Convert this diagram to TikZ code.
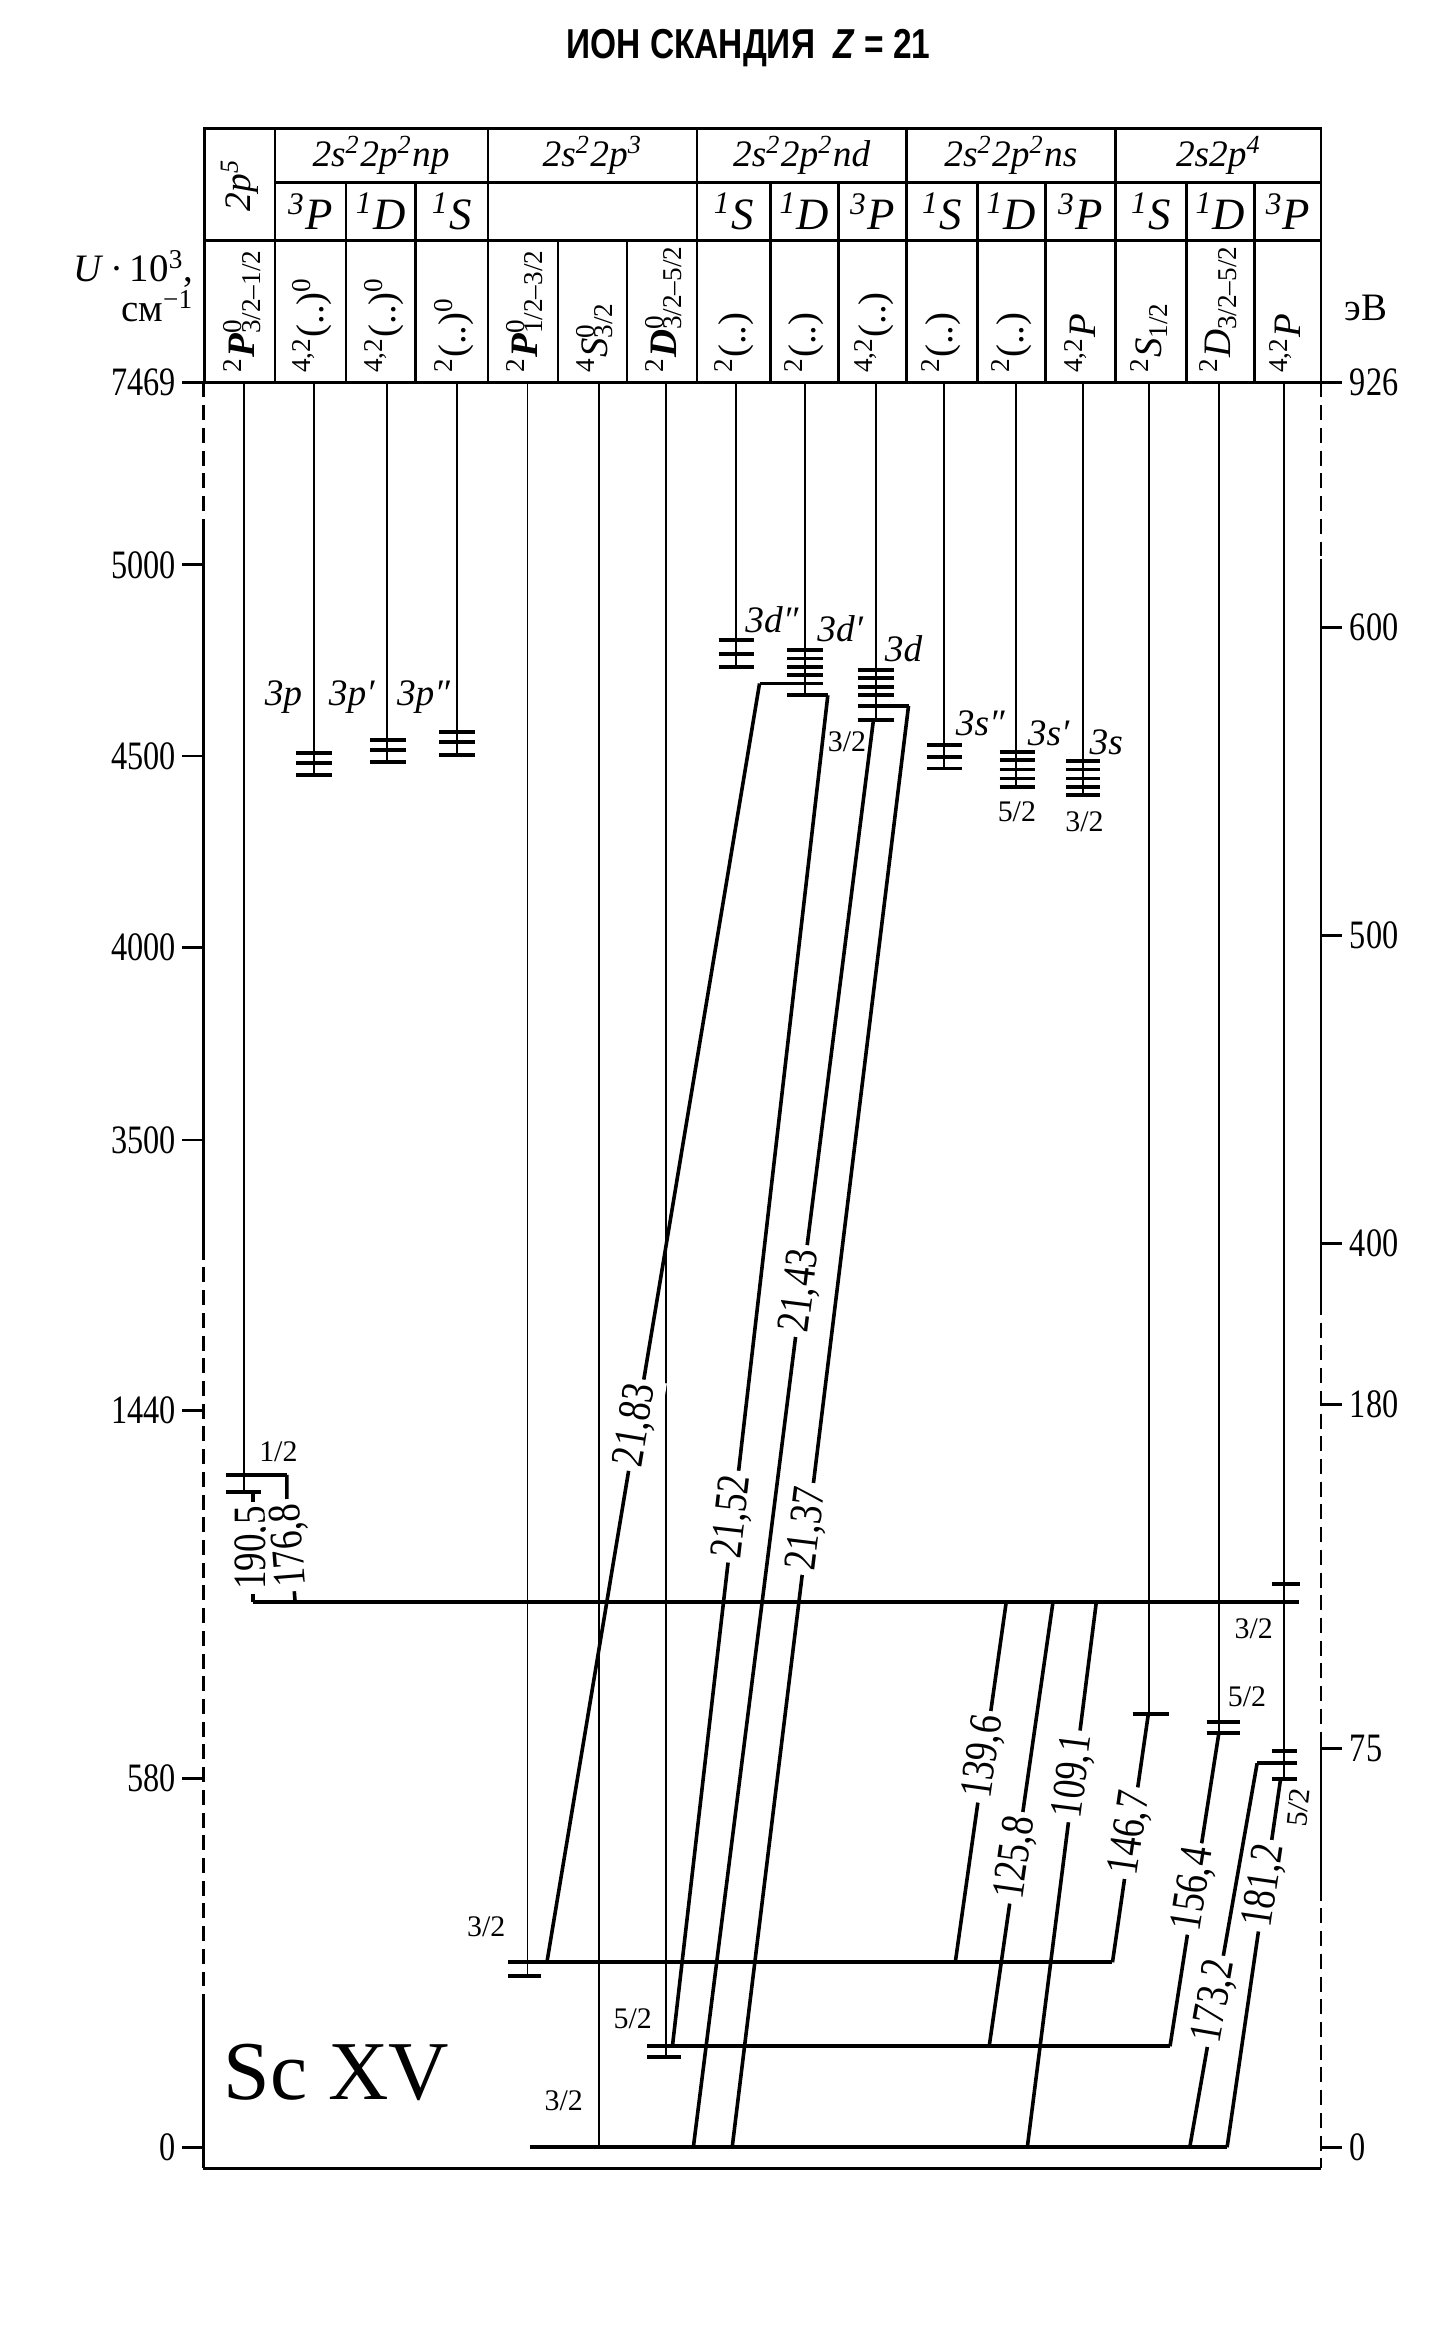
\documentclass[tikz,border=0pt]{standalone}
\usepackage{fontspec}
\usepackage{graphicx}
\setmainfont{Liberation Serif}
\newfontfamily\condserif[FakeStretch=0.8]{Liberation Serif}
\newfontfamily\titlesans[FakeStretch=0.8]{Liberation Sans}
\newcommand\supsub[2]{\makebox[0pt][l]{\textsuperscript{#1}}\textsubscript{#2}}
\begin{document}
\begin{tikzpicture}[x=0.5pt,y=-0.5pt,
  frame/.style={line width=0.9pt},
  axd/.style={line width=0.9pt, dash pattern=on 5pt off 2.6pt},
  col/.style={line width=0.65pt},
  lev/.style={line width=1.2pt},
  tk/.style={line width=1.3pt},
  tr/.style={line width=1.2pt},
  hdr/.style={font=\fontsize{12.5}{14}\selectfont\itshape, inner sep=0pt},
  term/.style={font=\fontsize{15}{16}\selectfont\itshape, inner sep=0pt},
  cfg/.style={rotate=90, anchor=west, font=\fontsize{13}{14}\selectfont, inner sep=0pt},
  axl/.style={font=\condserif\fontsize{13.5}{15}\selectfont, inner sep=0pt},
  trl/.style={sloped, fill=white, inner sep=1.5pt, font=\condserif\fontsize{15.5}{16}\selectfont},
  lvl/.style={font=\fontsize{12.5}{14}\selectfont\itshape, inner sep=0pt},
  jl/.style={font=\fontsize{10}{11}\selectfont, inner sep=0pt}]
\useasboundingbox (0,0) rectangle (972,1568);

% title
\node (title) at (501,32) {\titlesans\bfseries\fontsize{14}{16}\selectfont ИОН СКАНДИЯ\ \ \textit{Z} = 21};

% table
\draw[frame] (137,86) rectangle (884,256);
\draw[frame] (184,122) -- (884,122);
\draw[frame] (137,161) -- (884,161);
\foreach \x in {184,326.5,466.5,606.5,746.5} \draw[frame] (\x,86) -- (\x,256);
\foreach \x in {231.5,278,515.5,561,654,699.5,794,839.5} \draw[frame] (\x,122) -- (\x,256);
\foreach \x in {373.5,419.5} \draw[frame] (\x,161) -- (\x,256);
\draw[frame] (122,256) -- (898,256);

% header row 1
\node[hdr, rotate=90] (h2p5) at (160.5,124) {2p\textsuperscript{5}};
\node[hdr] (hnp) at (255,104) {2s\textsuperscript{2}2p\textsuperscript{2}np};
\node[hdr] (hp3) at (396.5,104) {2s\textsuperscript{2}2p\textsuperscript{3}};
\node[hdr] (hnd) at (536.5,104) {2s\textsuperscript{2}2p\textsuperscript{2}nd};
\node[hdr] (hns) at (676.5,104) {2s\textsuperscript{2}2p\textsuperscript{2}ns};
\node[hdr] (hp4) at (815.5,104) {2s2p\textsuperscript{4}};
% header row 2
\node[term] (r1) at (207.8,141.5) {\textsuperscript{3}P};
\node[term] (r2) at (254.8,141.5) {\textsuperscript{1}D};
\node[term] (r3) at (302.3,141.5) {\textsuperscript{1}S};
\node[term] (r4) at (491,141.5) {\textsuperscript{1}S};
\node[term] (r5) at (538.3,141.5) {\textsuperscript{1}D};
\node[term] (r6) at (583.8,141.5) {\textsuperscript{3}P};
\node[term] (r7) at (630.3,141.5) {\textsuperscript{1}S};
\node[term] (r8) at (676.8,141.5) {\textsuperscript{1}D};
\node[term] (r9) at (723,141.5) {\textsuperscript{3}P};
\node[term] (r10) at (770.3,141.5) {\textsuperscript{1}S};
\node[term] (r11) at (816.8,141.5) {\textsuperscript{1}D};
\node[term] (r12) at (862,141.5) {\textsuperscript{3}P};
% header row 3
\node[cfg] (c1) at (162,250) {\textsuperscript{2}\textbf{\textit{P}}\supsub{0}{3/2–1/2}};
\node[cfg] (c2) at (209,250) {\textsuperscript{4,2}(..)\textsuperscript{0}};
\node[cfg] (c3) at (257,250) {\textsuperscript{4,2}(..)\textsuperscript{0}};
\node[cfg] (c4) at (304,250) {\textsuperscript{2}(..)\textsuperscript{0}};
\node[cfg] (c5) at (351,250) {\textsuperscript{2}\textbf{\textit{P}}\supsub{0}{1/2–3/2}};
\node[cfg] (c6) at (398,250) {\textsuperscript{4}\textit{S}\supsub{0}{3/2}};
\node[cfg] (c7) at (444,250) {\textsuperscript{2}\textbf{\textit{D}}\supsub{0}{3/2–5/2}};
\node[cfg] (c8) at (491,250) {\textsuperscript{2}(..)};
\node[cfg] (c9) at (538,250) {\textsuperscript{2}(..)};
\node[cfg] (c10) at (585,250) {\textsuperscript{4,2}(..)};
\node[cfg] (c11) at (630,250) {\textsuperscript{2}(..)};
\node[cfg] (c12) at (677,250) {\textsuperscript{2}(..)};
\node[cfg] (c13) at (723,250) {\textsuperscript{4,2}\textit{P}};
\node[cfg] (c14) at (769,250) {\textsuperscript{2}\textit{S}\textsubscript{1/2}};
\node[cfg] (c15) at (815,250) {\textsuperscript{2}\textit{D}\textsubscript{3/2–5/2}};
\node[cfg] (c16) at (860,250) {\textsuperscript{4,2}\textit{P}};

% axes
\node[font=\fontsize{13}{15}\selectfont, anchor=east, inner sep=0pt] (ulab) at (130,180) {\textit{U}\,·\,10\textsuperscript{3},};
\node[font=\fontsize{13}{15}\selectfont, anchor=east, inner sep=0pt] (cmlab) at (130,205) {см\textsuperscript{−1}};
\node[font=\fontsize{13}{15}\selectfont, inner sep=0pt] (evlab) at (914,206) {эВ};
\draw[axd] (136,256) -- (136,350);
\draw[frame] (136,350) -- (136,833);
\draw[axd] (136,833) -- (136,1343);
\draw[frame] (136,1343) -- (136,1451);
\draw[frame] (136,1451) -- (884,1451);
\draw[axd] (884,256) -- (884,374);
\draw[frame] (884,374) -- (884,870);
\draw[axd] (884,870) -- (884,1163);
\draw[frame] (884,1163) -- (884,1262);
\draw[axd] (884,1262) -- (884,1451);
\foreach \v/\y in {7469/256,5000/378,4500/506,4000/634,3500/763,1440/944,580/1190,0/1437}{
  \draw[frame] (122,\y) -- (136,\y);
  \node[axl, anchor=east] (l\v) at (118,\y) {\v};}
\foreach \v/\y in {926/256,600/420,500/626,400/832,180/940,75/1170,0/1437}{
  \draw[frame] (884,\y) -- (898,\y);
  \node[axl, anchor=west] (r\v) at (903,\y) {\v};}

% level columns
\foreach \x/\yb in {163/998.5, 210/518.8, 259/509.9, 306/505.4, 353/1322, 401/1437, 446/1377, 492.7/446.3, 539/465.3, 586/482, 631.5/514.3, 680/526.6, 724.5/532.2, 769/1147, 816/1160, 859/1190.5}
  \draw[col] (\x,256) -- (\x,\yb);

% tick stacks
\foreach \y in {503.9,510.5,518.8} \draw[tk] (198,\y) -- (222,\y);
\foreach \y in {495.4,502.1,509.9} \draw[tk] (247.5,\y) -- (271.5,\y);
\foreach \y in {489.8,496.5,505.4} \draw[tk] (294,\y) -- (318,\y);
\foreach \y in {428.4,437.4,446.3} \draw[tk] (481,\y) -- (504.5,\y);
\foreach \y in {434.7,440.7,446.3,451.9} \draw[tk] (527,\y) -- (550.5,\y);
\foreach \y in {448.5,454,459.5,465,482} \draw[tk] (574,\y) -- (598,\y);
\foreach \y in {498.7,506.5,514.3} \draw[tk] (620.3,\y) -- (643.7,\y);
\foreach \y in {503.2,508.8,515,521,526.6} \draw[tk] (669,\y) -- (692.4,\y);
\foreach \y in {509.4,515,521,526.6,532.2} \draw[tk] (713.3,\y) -- (736,\y);
\draw[tk] (151,998.5) -- (174.7,998.5);
\draw[tk] (340,1322.1) -- (362,1322.1);
\draw[tk] (433,1376.8) -- (456,1376.8);
\draw[tk] (758,1147) -- (782,1147);
\draw[tk] (807.5,1152.5) -- (829.8,1152.5);
\draw[tk] (807.5,1160) -- (829.8,1160);
\draw[tk] (851,1060) -- (870,1060);
\draw[tk] (851,1172) -- (868,1172);
\draw[tk] (851,1190.5) -- (868,1190.5);

% named level points
\coordinate (d2a) at (508.3,457.4);
\coordinate (d2b) at (550.5,457.4);
\coordinate (d1a) at (527,465.3);
\coordinate (d1b) at (554,465.3);
\coordinate (d0a) at (574,472.4);
\coordinate (d0b) at (608,472.4);
\coordinate (d0c) at (584.5,482);
\coordinate (p5a) at (151,987);
\coordinate (p5b) at (192,987);
\coordinate (p5c) at (192,1003);
\coordinate (p5d) at (169.5,998.5);
\coordinate (L4a) at (169,1072);
\coordinate (L4b) at (869.6,1072);
\coordinate (L2Pa) at (340,1313.2);
\coordinate (L2Pb) at (744.5,1313.2);
\coordinate (L2Da) at (433,1369.4);
\coordinate (L2Db) at (783,1369.4);
\coordinate (Gra) at (355,1437);
\coordinate (Grb) at (821.2,1437);
\coordinate (S2) at (768.5,1147);
\coordinate (D2) at (815.5,1161);
\coordinate (P4a) at (841.3,1180);
\coordinate (P4b) at (868,1180);
\coordinate (P4c) at (857,1190.5);

% level lines
\draw[tk] (d2a) -- (d2b);
\draw[tk] (d1a) -- (d1b);
\draw[tk] (d0a) -- (d0b);
\draw[tk] (p5a) -- (p5b);
\draw[lev] (L4a) -- (L4b);
\draw[lev] (L2Pa) -- (L2Pb);
\draw[lev] (L2Da) -- (L2Db);
\draw[lev] (Gra) -- (Grb);
\draw[tk] (P4a) -- (P4b);

% transitions
\draw[tr] (d2a) -- node[trl,pos=0.58] (t2183) {21,83} (366,1313.2);
\draw[tr] (d1b) -- node[trl,pos=0.608] (t2152) {21,52} (450,1369.4);
\draw[tr] (d0c) -- node[trl,pos=0.4] (t2143) {21,43} (464,1437);
\draw[tr] (d0b) -- node[trl,pos=0.571] (t2137) {21,37} (490,1437);
\draw[tr] (169.5,1072) -- node[trl,pos=0.49] (t1905) {190,5} (p5d);
\draw[tr] (197.5,1072) -- node[trl,allow upside down,pos=0.55] (t1768) {176,8} (p5c) -- (p5b);
\draw[tr] (673.4,1072) -- node[trl,pos=0.43] (t1396) {139,6} (639.3,1313.2);
\draw[tr] (704.7,1072) -- node[trl,pos=0.576] (t1258) {125,8} (662,1369.4);
\draw[tr] (733.7,1072) -- node[trl,pos=0.32] (t1091) {109,1} (687.5,1437);
\draw[tr] (S2) -- node[trl,pos=0.48] (t1467) {146,7} (L2Pb);
\draw[tr] (D2) -- node[trl,pos=0.495] (t1564) {156,4} (L2Db);
\draw[tr] (P4a) -- node[trl,pos=0.62] (t1732) {173,2} (796.2,1437);
\draw[tr] (P4c) -- node[trl,pos=0.29] (t1812) {181,2} (Grb);

% level labels
\node[lvl] (n3p) at (189.7,466.4) {3p};
\node[lvl] (n3p1) at (235.4,466.4) {3p′};
\node[lvl] (n3p2) at (283.4,466.4) {3p″};
\node[lvl] (n3d2) at (516.6,415) {3d″};
\node[lvl] (n3d1) at (562.3,420.6) {3d′};
\node[lvl] (n3d) at (604.7,434) {3d};
\node[lvl] (n3s2) at (656,484.2) {3s″};
\node[lvl] (n3s1) at (701.7,491) {3s′};
\node[lvl] (n3s) at (740.3,496.5) {3s};

% J labels
\node[jl] (j1) at (186.3,971.8) {1/2};
\node[jl] (j2) at (566.8,496.5) {3/2};
\node[jl] (j3) at (680.5,543.3) {5/2};
\node[jl] (j4) at (725.8,550) {3/2};
\node[jl] (j5) at (839,1090) {3/2};
\node[jl] (j6) at (834.5,1135.8) {5/2};
\node[jl, rotate=84] (j7) at (869,1209.4) {5/2};
\node[jl] (j8) at (325.4,1289.7) {3/2};
\node[jl] (j9) at (423.4,1351) {5/2};
\node[jl] (j10) at (377.3,1405.8) {3/2};

% ion label
\node[font=\fontsize{28}{30}\selectfont, inner sep=0pt] (ion) at (225,1387) {Sc XV};
\end{tikzpicture}
\end{document}
